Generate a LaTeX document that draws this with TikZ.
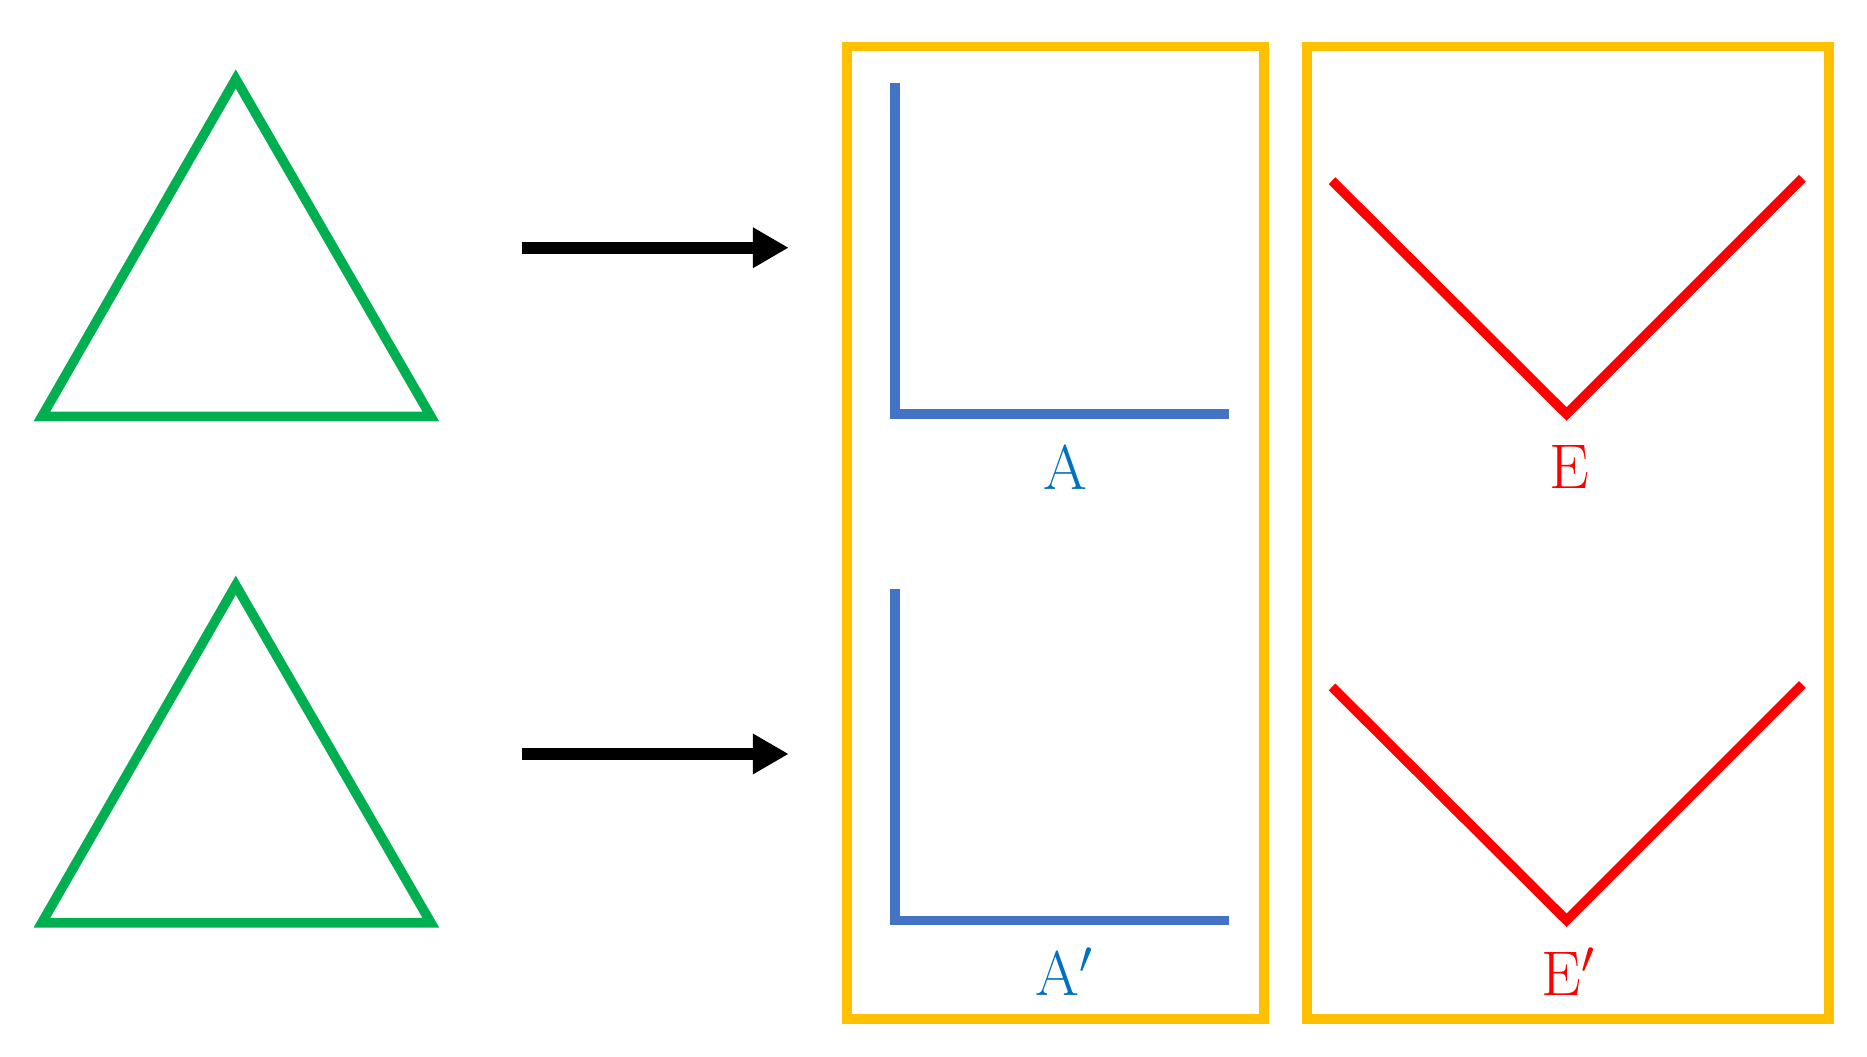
\documentclass[tikz,border=0pt]{standalone}
\usetikzlibrary{arrows.meta}
\definecolor{tri}{HTML}{00B050}
\definecolor{box}{HTML}{FFC000}
\definecolor{lblue}{HTML}{4472C4}
\definecolor{tblue}{HTML}{0070C0}
\begin{document}
\begin{tikzpicture}[x=0.01cm,y=-0.01cm,
  tri/.style={draw=tri,line width=0.08cm,line join=miter},
  boxs/.style={draw=box,line width=0.08cm},
  arr/.style={line width=0.1cm,-{Triangle[length=0.3cm,width=0.32cm]}},
  ell/.style={draw=lblue,line width=0.08cm},
  vee/.style={draw=red,line width=0.08cm},
  lbl/.style={font=\fontsize{15}{18}\selectfont,inner sep=0pt}]
\useasboundingbox (0,0) rectangle (1560,883);
% triangles
\foreach \dy/\n in {0/a,423/b}{
  \coordinate (\n1) at (197,66+\dy);
  \coordinate (\n2) at (35,348+\dy);
  \coordinate (\n3) at (360,348+\dy);
  \draw[tri] (\n1) -- (\n2) -- (\n3) -- cycle;
}
% arrows
\coordinate (s1) at (436,207); \coordinate (e1) at (659,207);
\coordinate (s2) at (436,630); \coordinate (e2) at (659,630);
\draw[arr] (s1) -- (e1);
\draw[arr] (s2) -- (e2);
% boxes
\node[boxs,minimum width=3.48cm,minimum height=8.12cm,inner sep=0pt] (B1) at (882,445) {};
\node[boxs,minimum width=4.36cm,minimum height=8.12cm,inner sep=0pt] (B2) at (1310,445) {};
% L shapes
\draw[ell] (748,69) -- (748,346) -- (1027,346);
\draw[ell] (748,492) -- (748,769) -- (1027,769);
\node[lbl,text=tblue] (A) at (890,390) {A};
\node[lbl,text=tblue] (A2) at (890,812) {A$'$};
% V shapes
\draw[vee] (1113,151) -- (1309,346) -- (1506,149);
\draw[vee] (1113,574) -- (1309,769) -- (1506,572);
\node[lbl,text=red] (E) at (1311,390) {E};
\node[lbl,text=red] (E2) at (1311,812) {E$'$};
\end{tikzpicture}
\end{document}
